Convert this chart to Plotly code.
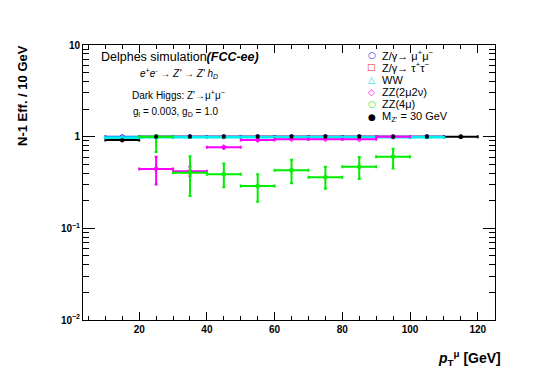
"""N-1 efficiency vs muon pT, Delphes FCC-ee dark Higgs study (ROOT-style look)."""

import plotly.graph_objects as go

FONT = "Liberation Sans"

# ── Data (bin centres, 10 GeV bins) ──────────────────────────────────────────
BIN_HALF = 5.0

sig_x = [15, 25, 35, 45, 55, 65, 75, 85, 95, 105, 115]
sig_y = [0.92, 1.0, 1.0, 1.0, 1.0, 1.0, 1.0, 1.0, 1.0, 1.0, 1.0]

zmm_x = [15, 25, 35, 45, 55, 65, 75, 85, 95, 105]
zmm_y = [1.0, 1.0, 1.0, 1.0, 1.0, 1.0, 1.0, 1.0, 1.0, 1.0]

ztt_x = []
ztt_y = []

ww_x = [15, 25, 35, 45, 55, 65, 75, 85, 95, 105]
ww_y = [0.975, 0.985, 0.985, 0.985, 0.985, 0.985, 0.985, 0.985, 0.985, 0.985]

zz2l_x = [25, 35, 45, 55, 65, 75, 85, 95]
zz2l_y = [0.445, 0.42, 0.766, 0.92, 0.94, 0.94, 0.94, 1.0]
zz2l_up = [0.16, 0.05, 0.02, 0.015, 0.01, 0.01, 0.01, 0.0]
zz2l_dn = [0.145, 0.05, 0.02, 0.015, 0.01, 0.01, 0.01, 0.01]

zz4l_x = [25, 35, 45, 55, 65, 75, 85, 95]
zz4l_y = [1.0, 0.405, 0.39, 0.29, 0.43, 0.36, 0.47, 0.605]
zz4l_up = [0.0, 0.205, 0.12, 0.10, 0.13, 0.11, 0.13, 0.135]
zz4l_dn = [0.32, 0.18, 0.11, 0.095, 0.12, 0.09, 0.125, 0.155]

Y_TICKS = [0.01, 0.1, 1, 10]
Y_TICKTEXT = ["10<sup>−2</sup>", "10<sup>−1</sup>", "1", "10"]

# ROOT TLegend-style entries: (symbol glyph, colour, label)
LEGEND_ROWS = [
    ("○", "#2222ee", "Z/γ→ μ<sup>+</sup>μ<sup>−</sup>"),
    ("□", "#ee2222", "Z/γ→ τ<sup>+</sup>τ<sup>−</sup>"),
    ("△", "#00dddd", "WW"),
    ("◇", "#ff00ff", "ZZ(2μ2ν)"),
    ("<b>○</b>", "#00ee00", "ZZ(4μ)"),
    ("●", "black", "M<sub>Z'</sub> = 30 GeV"),
]


def hist_trace(x, y, name, color, symbol, lw=2, up=None, dn=None, msize=4):
    err_y = dict(visible=False)
    if up is not None:
        err_y = dict(type="data", symmetric=False, array=up, arrayminus=dn,
                     color=color, thickness=lw, width=1.5)
    return go.Scatter(
        x=x, y=y, mode="markers", name=name,
        marker=dict(symbol=symbol, size=msize, color=color,
                    line=dict(color=color, width=1)),
        error_x=dict(type="constant", value=BIN_HALF, color=color,
                     thickness=lw, width=1.5),
        error_y=err_y,
    )


fig = go.Figure()
# draw order chosen to match overlaps in the original canvas
fig.add_trace(hist_trace(sig_x, sig_y, "signal", "black", "circle"))
fig.add_trace(hist_trace(zmm_x, zmm_y, "Zmumu", "#2222ee", "circle-open"))
fig.add_trace(go.Scatter(x=ztt_x, y=ztt_y, mode="markers", name="Ztautau",
                         marker=dict(symbol="square-open", size=6,
                                     color="#ee2222")))
fig.add_trace(hist_trace(ww_x, ww_y, "WW", "#00eeee", "triangle-up-open",
                         lw=2.6))
fig.add_trace(hist_trace(zz2l_x, zz2l_y, "ZZ2l2v", "#ff00ff", "diamond-open",
                         up=zz2l_up, dn=zz2l_dn))
fig.add_trace(hist_trace(zz4l_x, zz4l_y, "ZZ4l", "#00ee00", "circle-open",
                         up=zz4l_up, dn=zz4l_dn))
# signal markers on top
fig.add_trace(go.Scatter(x=sig_x, y=sig_y, mode="markers", name="signal pts",
                         marker=dict(symbol="circle", size=4, color="black")))

axis_common = dict(
    showgrid=False, zeroline=False, showline=True, linecolor="black",
    linewidth=1, mirror="allticks", ticks="inside", tickcolor="black",
    tickfont=dict(family=FONT, size=10, color="black", weight="bold"),
)

# page body has an 8px margin, so the figure is 8px smaller and margins shifted
fig.update_layout(
    width=548, height=369,
    margin=dict(l=75, r=61, t=37, b=57),
    paper_bgcolor="white", plot_bgcolor="white",
    font=dict(family=FONT, color="black"),
    showlegend=False,
    xaxis=dict(range=[3.4, 125.1], tickvals=[20, 40, 60, 80, 100, 120],
               ticklen=8,
               minor=dict(ticks="inside", dtick=5, tick0=0, ticklen=4,
                          tickcolor="black"),
               **axis_common),
    yaxis=dict(type="log", range=[-2, 1], tickvals=Y_TICKS,
               ticktext=Y_TICKTEXT, ticklen=12,
               minor=dict(ticks="inside", dtick="D1", ticklen=6,
                          tickcolor="black"),
               **axis_common),
)

txt = dict(xref="paper", yref="paper", showarrow=False,
           font=dict(family=FONT, size=10, color="black"))
fig.add_annotation(x=0.04, y=0.956, xanchor="left", yanchor="middle",
                   text="Delphes simulation<b><i>(FCC-ee)</i></b>",
                   **{**txt, "font": dict(family=FONT, size=12.5, color="black")})
fig.add_annotation(x=0.233, y=0.898, xanchor="center", yanchor="middle",
                   text="<i>e<sup>+</sup>e<sup>-</sup> → Z' → Z' h<sub>D</sub></i>",
                   **txt)
fig.add_annotation(x=0.233, y=0.818, xanchor="center", yanchor="middle",
                   text="Dark Higgs: Z'→μ<sup>+</sup>μ<sup>−</sup>", **txt)
fig.add_annotation(x=0.225, y=0.755, xanchor="center", yanchor="middle",
                   text="g<sub>l</sub> = 0.003, g<sub>D</sub> = 1.0", **txt)

# legend block
row_y = [0.964, 0.92, 0.874, 0.829, 0.785, 0.738]
for (sym, col, label), yy in zip(LEGEND_ROWS, row_y):
    fig.add_annotation(x=0.701, y=yy, xanchor="center", yanchor="middle",
                       text=f"<span style='color:{col}'>{sym}</span>",
                       **{**txt, "font": dict(family="DejaVu Sans", size=9,
                                              color=col)})
    fig.add_annotation(x=0.722, y=yy, xanchor="left", yanchor="middle",
                       text=label,
                       **{**txt, "font": dict(family=FONT, size=11,
                                              color="black")})

# axis titles (ROOT places them at the far end of the axis)
fig.add_annotation(xref="paper", yref="paper", x=-0.147, y=1.007,
                   xanchor="center", yanchor="top", textangle=-90,
                   showarrow=False, text="<b>N-1 Eff. / 10 GeV</b>",
                   font=dict(family=FONT, size=13, color="black"))
fig.add_annotation(xref="paper", yref="paper", x=1.019, y=-0.095,
                   xanchor="right", yanchor="top", showarrow=False,
                   text="<b><i>p</i><sub>T</sub><sup>μ</sup> [GeV]</b>",
                   font=dict(family=FONT, size=14, color="black"))

fig.write_html("out.html")
